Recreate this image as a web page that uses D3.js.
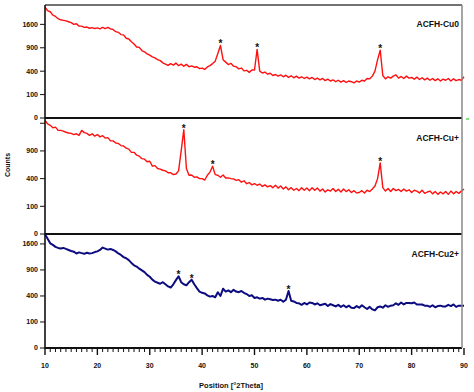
<!DOCTYPE html>
<html>
<head>
<meta charset="utf-8">
<script src="https://cdn.jsdelivr.net/npm/d3@7"></script>
<style>
  body { margin: 0; background: #fff; }
  text { font-family: "Liberation Sans", Arial, sans-serif; font-weight: bold; fill: #111; }
</style>
</head>
<body>
<div id="wrapper"></div>
<script>
// scan: 10 to 90 degrees 2theta, step 0.5
const thetaStart = 10
const thetaStep = 0.5

const cu0Counts = [
  2240,2100,2060,1930,1880,1800,1760,1740,1720,1690,
  1660,1600,1620,1540,1540,1500,1510,1470,1490,1460,
  1480,1450,1500,1460,1500,1450,1430,1360,1340,1270,
  1260,1160,1140,1060,1000,920,910,830,800,750,
  720,680,660,620,600,555,530,505,540,510,
  550,500,530,490,525,480,495,470,480,445,
  455,430,475,500,540,590,760,960,620,570,
  520,545,490,480,440,455,405,415,380,420,
  420,860,400,370,385,350,365,330,345,320,
  340,310,335,300,325,295,320,290,310,285,
  305,280,300,270,290,265,285,255,275,250,
  265,240,260,235,255,230,250,240,225,250,
  235,260,250,285,280,320,400,620,840,330,
  280,310,290,320,340,290,315,285,320,290,
  300,275,305,270,295,265,290,260,285,255,
  280,250,275,260,285,250,280,255,270,260,
  310
]

const cuPlusCounts = [
  1680,1580,1540,1470,1490,1400,1400,1380,1350,1330,
  1320,1290,1310,1270,1400,1340,1320,1270,1310,1250,
  1290,1230,1260,1200,1210,1130,1130,1080,1070,1020,
  1010,960,940,870,870,810,790,740,730,680,
  690,600,610,560,550,530,520,490,490,460,
  470,520,900,1420,560,450,455,420,425,400,
  400,380,450,500,600,460,450,420,455,410,
  410,400,395,375,385,350,370,330,345,315,
  330,310,325,295,315,290,305,280,310,275,
  300,265,290,255,280,250,270,245,280,250,
  275,245,280,250,275,240,265,230,255,240,
  270,235,260,230,265,235,255,225,245,220,
  225,245,220,250,235,265,300,400,660,280,
  240,270,235,270,245,260,235,265,240,255,
  225,250,240,220,250,215,230,240,210,235,
  205,230,210,235,205,240,210,235,215,240,
  265
]

const cu2Counts = [
  1910,1760,1620,1570,1510,1480,1460,1480,1450,1420,
  1390,1370,1320,1350,1330,1310,1340,1320,1330,1360,
  1380,1420,1490,1460,1430,1450,1420,1380,1320,1280,
  1220,1190,1140,1070,1010,980,930,890,850,790,
  750,690,650,630,610,640,600,560,540,600,
  680,760,640,600,580,640,690,600,530,470,
  450,440,410,390,400,380,460,400,520,470,
  490,460,500,470,460,480,450,430,400,410,
  370,380,360,370,345,360,350,340,345,330,
  345,315,345,480,330,320,300,295,275,300,
  280,305,300,280,295,270,280,290,260,285,
  270,255,275,250,270,245,265,240,235,260,
  240,270,245,225,250,220,210,245,255,240,
  270,250,265,270,295,275,305,280,300,300,
  295,305,280,280,280,265,265,250,270,245,
  260,265,255,255,275,260,280,250,265,265,
  265
]

const cu0Peaks = [43.5, 50.5, 74]
const cuPlusPeaks = [36.5, 42, 74]
const cu2Peaks = [35.5, 38, 56.5]

const sampleNames = ["ACFH-Cu0", "ACFH-Cu+", "ACFH-Cu2+"]
const yTicks = [0, 100, 400, 900, 1600]
const xTicks = [10, 20, 30, 40, 50, 60, 70, 80, 90]

function drawChart() {
  const width = 474
  const height = 392
  const left = 45
  const right = 462

  const svg = d3.select("#wrapper").append("svg")
    .attr("width", width)
    .attr("height", height)

  const xScale = d3.scaleLinear()
    .domain([10, 90])
    .range([left, 464])

  const panels = [
    { name: sampleNames[0], counts: cu0Counts, peaks: cu0Peaks, color: "#ff1010", lw: 1.4,
      top: 5, bottom: 118, max: 2330, labels: [0, 100, 400, 900, 1600], labelY: 27 },
    { name: sampleNames[1], counts: cuPlusCounts, peaks: cuPlusPeaks, color: "#ff1010", lw: 1.4,
      top: 118, bottom: 234, max: 1755, labels: [0, 100, 400, 900], labelY: 141 },
    { name: sampleNames[2], counts: cu2Counts, peaks: cu2Peaks, color: "#0c0c80", lw: 2,
      top: 234, bottom: 348, max: 1920, labels: [0, 100, 400, 900, 1600], labelY: 257 }
  ]

  panels.forEach(p => {
    const yScale = d3.scaleSqrt()
      .domain([0, p.max])
      .range([p.bottom, p.top])

    const data = p.counts.map((c, i) => ({ theta: thetaStart + i * thetaStep, count: c }))

    const line = d3.line()
      .x(d => xScale(d.theta))
      .y(d => yScale(d.count))

    svg.append("path")
      .datum(data)
      .attr("fill", "none")
      .attr("stroke", p.color)
      .attr("stroke-width", p.lw)
      .attr("stroke-linejoin", "round")
      .attr("d", line)

    // y ticks
    const ticks = svg.append("g")
    ticks.selectAll("line")
      .data(yTicks)
      .join("line")
      .attr("x1", left - 5)
      .attr("x2", left)
      .attr("y1", d => yScale(d))
      .attr("y2", d => yScale(d))
      .attr("stroke", "#111")
      .attr("stroke-width", 1)

    ticks.selectAll("text")
      .data(p.labels)
      .join("text")
      .attr("x", left - 7)
      .attr("y", d => yScale(d))
      .attr("dy", "0.35em")
      .attr("text-anchor", "end")
      .attr("font-size", 7)
      .text(d => d)

    // peak markers
    svg.selectAll(null)
      .data(p.peaks)
      .join("text")
      .attr("x", d => xScale(d))
      .attr("y", d => yScale(p.counts[Math.round((d - thetaStart) / thetaStep)]) + 2)
      .attr("text-anchor", "middle")
      .attr("font-size", 10)
      .text("*")

    svg.append("text")
      .attr("x", 459)
      .attr("y", p.labelY)
      .attr("text-anchor", "end")
      .attr("font-size", 8.5)
      .text(p.name)

    // panel bottom separator
    svg.append("line")
      .attr("x1", left)
      .attr("x2", right)
      .attr("y1", p.bottom)
      .attr("y2", p.bottom)
      .attr("stroke", "#111")
      .attr("stroke-width", 1.8)
  })

  // frame
  svg.append("line")
    .attr("x1", left).attr("x2", right)
    .attr("y1", 5).attr("y2", 5)
    .attr("stroke", "#444").attr("stroke-width", 1.3)
  svg.append("line")
    .attr("x1", right).attr("x2", right)
    .attr("y1", 5).attr("y2", 348)
    .attr("stroke", "#888").attr("stroke-width", 1.5)
  svg.append("line")
    .attr("x1", left).attr("x2", left)
    .attr("y1", 5).attr("y2", 349)
    .attr("stroke", "#111").attr("stroke-width", 1.6)
  svg.append("line")
    .attr("x1", 466).attr("x2", 469)
    .attr("y1", 119).attr("y2", 119)
    .attr("stroke", "#3c3").attr("stroke-width", 1.2)

  // x axis ticks
  const minor = d3.range(10, 91, 1)
  svg.append("g").selectAll("line")
    .data(minor)
    .join("line")
    .attr("x1", d => xScale(d))
    .attr("x2", d => xScale(d))
    .attr("y1", 348)
    .attr("y2", d => d % 10 === 0 ? 355 : 352)
    .attr("stroke", "#111")
    .attr("stroke-width", d => d % 10 === 0 ? 1.4 : 1)

  svg.append("g").selectAll("text")
    .data(xTicks)
    .join("text")
    .attr("x", d => xScale(d))
    .attr("y", 368)
    .attr("text-anchor", "middle")
    .attr("font-size", 7)
    .text(d => d)

  svg.append("text")
    .attr("x", 231)
    .attr("y", 388)
    .attr("text-anchor", "middle")
    .attr("font-size", 7.5)
    .text("Position [°2Theta]")

  svg.append("text")
    .attr("transform", "translate(10,165) rotate(-90)")
    .attr("text-anchor", "middle")
    .attr("font-size", 7)
    .text("Counts")
}
drawChart()
</script>
</body>
</html>
